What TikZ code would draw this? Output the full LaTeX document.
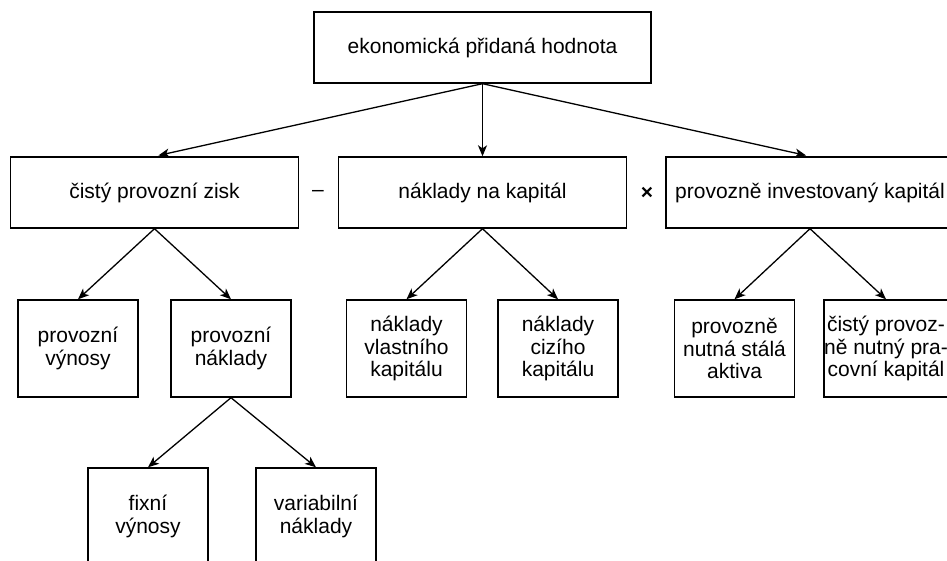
\documentclass[tikz,border=0pt]{standalone}
\usepackage{fontspec}
\setmainfont{Liberation Sans}
\usetikzlibrary{arrows.meta}

\begin{document}
\begin{tikzpicture}
[
    x=1pt, y=-1pt,
    font=\fontsize{21}{22.5}\selectfont,
    wide/.style={draw, line width=1.4pt, minimum width=288pt, minimum height=71pt, inner sep=0pt},
    leaf/.style={draw, line width=1.4pt, minimum width=120pt, minimum height=97pt, inner sep=0pt, align=center},
    conn/.style={line width=1.3pt, -{Stealth[length=11pt, width=9pt, inset=3pt]}}
]
    \useasboundingbox (0,0) rectangle (947,561);
    \clip (0,0) rectangle (947,561);

    \node [wide, minimum width=337pt] (eva) at (482.5,47.5) {ekonomická přidaná hodnota};

    \node [wide] (nopat) at (154.5,192.5) {čistý provozní zisk};
    \node [wide] (wacc) at (482.5,192.5) {náklady na kapitál};
    \node [wide] (cap) at (810,192.5) {provozně investovaný kapitál};
    \node (minus) at (318,193) {–};
    \node (times) at (647,193) {\textbf{×}};

    \node [leaf] (vynosy) at (78,348.5) {provozní\\výnosy};
    \node [leaf] (naklady) at (231,348.5) {provozní\\náklady};
    \node [leaf] (vlastni) at (406.5,348.5) {náklady\\vlastního\\kapitálu};
    \node [leaf] (cizi) at (558,348.5) {náklady\\cizího\\kapitálu};
    \node [leaf] (stala) at (734.5,348.5) {provozně\\nutná stálá\\aktiva};
    \node [leaf] (pracovni) at (886,348.5) {čistý provoz-\\ně nutný pra-\\covní kapitál};

    \node [leaf] (fixni) at (148,516.5) {fixní\\výnosy};
    \node [leaf] (variabilni) at (316,516.5) {variabilní\\náklady};

    \draw [conn, shorten >=4pt] (eva.south) -- (nopat.north);
    \draw [conn] (eva.south) -- (wacc.north);
    \draw [conn, shorten >=4pt] (eva.south) -- (cap.north);

    \draw [conn] (nopat.south) -- (vynosy.north);
    \draw [conn] (nopat.south) -- (naklady.north);
    \draw [conn] (wacc.south) -- (vlastni.north);
    \draw [conn] (wacc.south) -- (cizi.north);
    \draw [conn] (cap.south) -- (stala.north);
    \draw [conn] (cap.south) -- (pracovni.north);

    \draw [conn] (naklady.south) -- (fixni.north);
    \draw [conn] (naklady.south) -- (variabilni.north);
\end{tikzpicture}
\end{document}
